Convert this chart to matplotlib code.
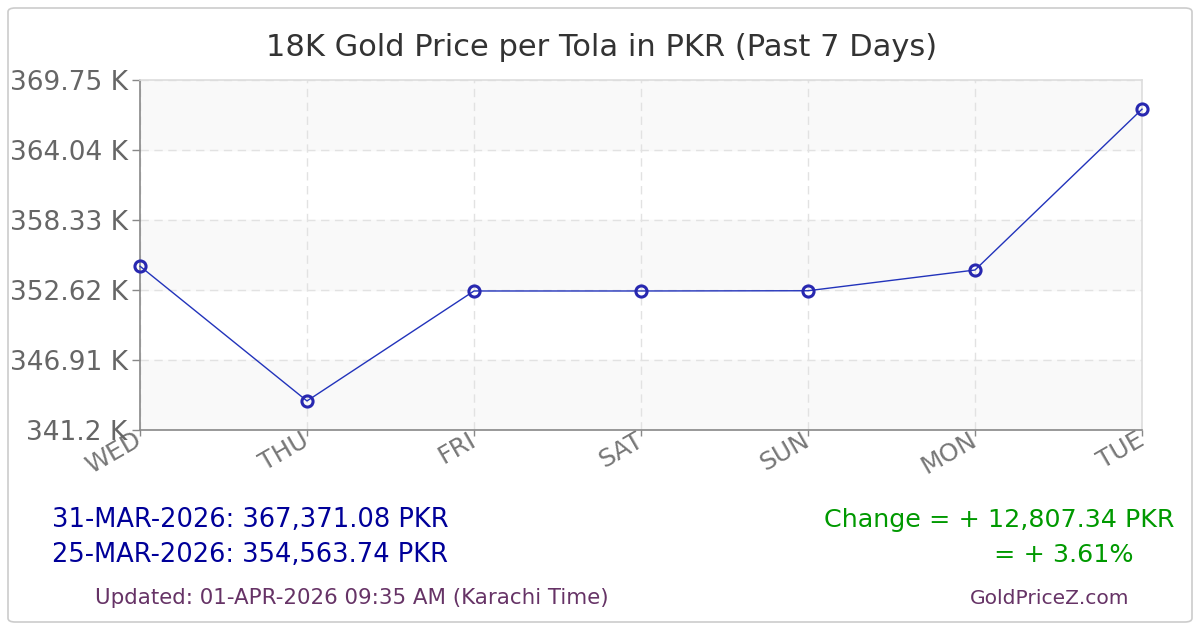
import matplotlib.pyplot as plt
from matplotlib.patches import FancyBboxPatch

# datos del grafico
days = ['WED', 'THU', 'FRI', 'SAT', 'SUN', 'MON', 'TUE']
prices = [354563.74, 343570, 352540, 352540, 352560, 354250, 367371.08]
y_ticks = [341200, 346910, 352620, 358330, 364040, 369750]
y_labels = ['341.2 K', '346.91 K', '352.62 K', '358.33 K', '364.04 K', '369.75 K']

title = '18K Gold Price per Tola in PKR (Past 7 Days)'
line_last = '31-MAR-2026: 367,371.08 PKR'
line_first = '25-MAR-2026: 354,563.74 PKR'
change_abs = 'Change = + 12,807.34 PKR'
change_pct = '= + 3.61%'
updated = 'Updated: 01-APR-2026 09:35 AM (Karachi Time)'
site = 'GoldPriceZ.com'

plt.rcParams['font.family'] = ['DejaVu Sans']

fig = plt.figure(figsize=(12, 6.3), dpi=100)
fig.patch.set_facecolor('white')

# borde redondeado exterior
frame = FancyBboxPatch((8 / 1200, 8 / 630), 1184 / 1200, 614 / 630,
                       boxstyle='round,pad=0,rounding_size=0.006',
                       transform=fig.transFigure, facecolor='white',
                       edgecolor='#cccccc', linewidth=1.2, zorder=-5)
fig.patches.append(frame)

ax = fig.add_axes([140 / 1200, 200 / 630, 1002 / 1200, 350 / 630])
ax.set_zorder(2)
ax.set_facecolor('white')

# bandas alternas
for i in range(len(y_ticks) - 1):
    if i % 2 == 0:
        ax.axhspan(y_ticks[i], y_ticks[i + 1], color='#f9f9f9', zorder=0)

x = list(range(len(days)))
ax.plot(x, prices, color='#2233bb', linewidth=1.0, zorder=3,
        marker='o', markersize=8, markerfacecolor='none',
        markeredgecolor='#2828b0', markeredgewidth=2.2, clip_on=False)

ax.set_xlim(0, len(days) - 1)
ax.set_ylim(y_ticks[0], y_ticks[-1])
ax.set_yticks(y_ticks)
ax.set_yticklabels(y_labels)
ax.set_xticks(x)
ax.set_xticklabels(days, rotation=30, ha='right', va='center',
                   rotation_mode='anchor')

ax.grid(True, color='#e2e2e2', linestyle=(0, (6, 4)), linewidth=1.0, zorder=1)
ax.set_axisbelow(True)

for s in ['left', 'bottom']:
    ax.spines[s].set_color('#888888')
    ax.spines[s].set_linewidth(1.2)
for s in ['top', 'right']:
    ax.spines[s].set_color('#dddddd')
    ax.spines[s].set_linewidth(1.2)

ax.tick_params(axis='y', colors='#888888', labelcolor='#666666',
               labelsize=19, length=6, width=1, pad=3)
ax.tick_params(axis='x', colors='#888888', labelcolor='#777777',
               labelsize=18, length=4, width=1, pad=2)

fig.text(602 / 1200, 1 - 48 / 630, title, ha='center', va='center',
         fontsize=22, color='#333333')

fig.text(52 / 1200, 1 - 520 / 630, line_last, ha='left', va='center',
         fontsize=18.5, color='#000099')
fig.text(52 / 1200, 1 - 555 / 630, line_first, ha='left', va='center',
         fontsize=18.5, color='#000099')
fig.text(95 / 1200, 1 - 598 / 630, updated, ha='left', va='center',
         fontsize=15.4, color='#663366')

fig.text(1175 / 1200, 1 - 520 / 630, change_abs, ha='right', va='center',
         fontsize=18.3, color='#009900')
fig.text(1133 / 1200, 1 - 555 / 630, change_pct, ha='right', va='center',
         fontsize=18.3, color='#009900')
fig.text(1050 / 1200, 1 - 598 / 630, site, ha='center', va='center',
         fontsize=14.6, color='#663366')

fig.savefig('out.png', dpi=100)
